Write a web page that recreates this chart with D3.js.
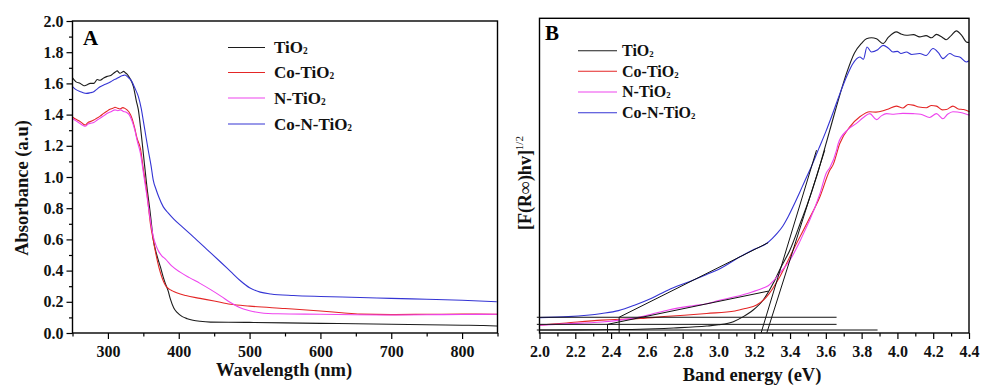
<!DOCTYPE html>
<html><head><meta charset="utf-8">
<script src="https://cdn.jsdelivr.net/npm/d3@7"></script>
<style>html,body{margin:0;padding:0;background:#fff;}svg{display:block;}</style>
</head><body>
<svg id="chart" width="982" height="387"></svg>
<script>
// ---------- Panel A data (wavelength nm -> absorbance) ----------
const seriesNames = ["TiO2", "Co-TiO2", "N-TiO2", "Co-N-TiO2"];
const tio2A_x = [250,255,261,266,270,275,280,285,289,294,299,304,308,311,313,317,320,322,325,327,331,336,340,343,346,350,355,360,364,369,374,378,381,385,388,393,398,405,412,420,430,445,470,500,550,600,650,700,750,800,830,850];
const tio2A_y = [1.635,1.61,1.60,1.585,1.59,1.60,1.60,1.625,1.62,1.635,1.645,1.65,1.665,1.675,1.68,1.665,1.672,1.677,1.667,1.66,1.633,1.58,1.49,1.43,1.32,1.15,0.94,0.76,0.60,0.50,0.425,0.36,0.318,0.27,0.22,0.16,0.13,0.105,0.092,0.082,0.075,0.070,0.069,0.068,0.065,0.062,0.059,0.056,0.053,0.050,0.048,0.045];
const coA_x = [250,255,261,265,268,272,275,280,284,289,294,298,303,307,310,314,317,321,324,327,330,334,338,341,346,350,355,360,364,368,372,376,379,382,386,391,397,410,430,450,473,500,550,600,630,656,700,750,800,850];
const coA_y = [1.385,1.37,1.355,1.34,1.333,1.35,1.355,1.365,1.376,1.39,1.408,1.42,1.434,1.44,1.447,1.44,1.436,1.445,1.44,1.43,1.415,1.376,1.31,1.25,1.18,1.05,0.90,0.70,0.596,0.50,0.42,0.36,0.325,0.30,0.283,0.27,0.258,0.24,0.222,0.205,0.184,0.172,0.157,0.141,0.13,0.121,0.118,0.12,0.121,0.12];
const nA_x = [250,255,260,265,268,272,276,280,285,290,295,300,305,310,314,318,322,326,330,334,338,342,346,350,355,360,364,368,372,376,381,390,402,415,430,445,460,473,485,500,515,540,600,650,700,750,800,850];
const nA_y = [1.375,1.36,1.345,1.33,1.325,1.34,1.345,1.35,1.365,1.38,1.395,1.41,1.42,1.43,1.425,1.43,1.42,1.415,1.40,1.36,1.30,1.22,1.15,1.03,0.88,0.72,0.62,0.56,0.52,0.495,0.475,0.43,0.39,0.355,0.318,0.278,0.235,0.195,0.165,0.143,0.13,0.123,0.12,0.117,0.115,0.117,0.119,0.12];
const conA_x = [250,255,261,265,270,275,280,285,289,294,299,304,308,312,317,321,324,327,330,334,338,343,347,350,354,357,361,364,368,372,378,385,393,405,421,440,459,473,487,500,515,530,562,600,656,700,750,800,849];
const conA_y = [1.58,1.56,1.547,1.54,1.536,1.54,1.547,1.565,1.579,1.59,1.60,1.61,1.622,1.63,1.643,1.65,1.654,1.645,1.633,1.611,1.57,1.515,1.44,1.36,1.25,1.17,1.07,0.98,0.92,0.87,0.81,0.77,0.73,0.68,0.615,0.535,0.455,0.395,0.335,0.29,0.262,0.25,0.24,0.234,0.228,0.222,0.216,0.21,0.20];
const xTicksA = [300,400,500,600,700,800];
const xMinorA = [250,350,450,550,650,750,850];
const yTicksA = [0,0.2,0.4,0.6,0.8,1.0,1.2,1.4,1.6,1.8,2.0];
const yMinorA = [0.1,0.3,0.5,0.7,0.9,1.1,1.3,1.5,1.7,1.9];

// ---------- Panel B data (band energy eV -> [F(R)hv]^1/2, arbitrary units) ----------
const tio2B_x = [2.0,2.2,2.4,2.562,2.75,2.934,3.0,3.083,3.139,3.194,3.25,3.306,3.35,3.399,3.464,3.492,3.55,3.622,3.68,3.715,3.76,3.799,3.827,3.855,3.883,3.92,3.95,3.994,4.02,4.05,4.09,4.124,4.16,4.19,4.218,4.25,4.273,4.3,4.329,4.36,4.385,4.4];
const tio2B_y = [0.95,1.0,1.1,1.2,1.6,2.2,2.6,3.6,5.2,7.3,10.5,15.8,21,26.3,35.9,40.1,50,64.4,76,82.4,89,92.0,93.5,93.8,93.5,92.0,94,95.7,95,94.6,94.8,94.1,94.5,93.8,94.9,94,93.2,94.5,96,94.5,92.5,92.3];
const coB_x = [2.0,2.15,2.348,2.562,2.72,2.934,3.092,3.15,3.213,3.269,3.343,3.417,3.5,3.567,3.622,3.641,3.678,3.734,3.79,3.846,3.88,3.92,3.95,3.994,4.03,4.06,4.087,4.12,4.162,4.19,4.218,4.25,4.273,4.31,4.34,4.37,4.403];
const coB_y = [2.5,3.2,4.1,4.6,5.3,6.2,7.0,7.8,8.9,11.5,17.9,26.3,35.5,43.3,51.7,53.5,60.2,65.5,68.7,70.3,70.2,70.6,71.2,72.1,71.5,72.6,72.4,71.8,71.6,72.3,72.1,70.9,71,72.1,71.2,71,70.3];
const nB_x = [2.0,2.15,2.348,2.45,2.534,2.62,2.72,2.85,2.934,3.0,3.092,3.18,3.25,3.278,3.306,3.35,3.4,3.45,3.492,3.51,3.567,3.604,3.622,3.66,3.669,3.72,3.771,3.81,3.846,3.883,3.91,3.939,3.98,4.03,4.087,4.13,4.18,4.218,4.254,4.28,4.31,4.36,4.403];
const nB_y = [2.5,2.9,3.5,4.1,4.8,5.9,7.3,8.6,9.3,10.3,11.5,12.9,14.3,15.0,16.5,19.5,23.2,28.5,33.7,35.9,44.3,51,52.5,58.1,60.2,64.5,66.6,68.5,69.7,67.8,69,69.7,69.5,69.8,69.7,69.5,68.5,69.7,68.1,69.5,70.3,70,69.2];
const conB_x = [2.0,2.162,2.348,2.441,2.534,2.62,2.72,2.84,2.934,3.0,3.12,3.2,3.27,3.3,3.33,3.36,3.39,3.42,3.45,3.48,3.52,3.56,3.6,3.64,3.678,3.72,3.75,3.79,3.81,3.83,3.855,3.89,3.92,3.95,3.975,4.0,4.02,4.05,4.08,4.124,4.16,4.199,4.23,4.254,4.292,4.32,4.348,4.385,4.4];
const conB_y = [4.9,5.2,6.2,7.1,8.9,10.9,13.7,16.4,18.6,20.2,24.2,26.6,28.5,30,31.8,34,37,40.5,44.2,48,53,58.5,64,70,76,82,85.5,87.7,87,90.9,89.3,90,91.4,90.5,89.3,89.5,88.8,89.3,88.5,88.8,88.2,90.4,89,87.2,88.8,88,87.7,86.1,86.5];
// tangent / baseline construction lines: [x1, y1, x2, y2]
const fitLinesB = [
  [1.985,5.0,3.66,5.0],
  [1.985,2.75,3.66,2.75],
  [1.985,0.95,3.889,0.95],
  [2.38,0,2.38,2.75],
  [2.445,0,2.445,5.0],
  [2.445,5.0,3.278,28.7],
  [2.38,2.75,3.278,13.3],
  [3.238,0,3.548,58.1],
  [3.27,0,3.594,58.1]
];
const xTicksB = [2.0,2.2,2.4,2.6,2.8,3.0,3.2,3.4,3.6,3.8,4.0,4.2,4.4];
const xMinorB = [2.1,2.3,2.5,2.7,2.9,3.1,3.3,3.5,3.7,3.9,4.1,4.3];

const colors = ["#1c1c1c", "#e42626", "#ee44ee", "#3434d4"];
const FONT = '"Liberation Serif","Times New Roman",serif';

const svg = d3.select("#chart");
svg.append("rect").attr("width",982).attr("height",387).attr("fill","#fff");

function zip(xs, ys){ return xs.map((x,i)=>[x, ys[i]]); }

function drawPanel(opt){
  const g = svg.append("g");
  const {x, y} = opt;
  const line = d3.line().x(d=>x(d[0])).y(d=>y(d[1])).curve(d3.curveMonotoneX);
  opt.series.forEach((s,i)=>{
    g.append("path").datum(zip(s[0], s[1]))
      .attr("d", line).attr("fill","none").attr("stroke", colors[i]).attr("stroke-width",1.1);
  });
  const xa = g.append("g").attr("transform",`translate(0,${y.range()[0]})`)
    .call(d3.axisBottom(x).tickValues(opt.xTicks).tickSize(6).tickPadding(7).tickFormat(opt.xFmt));
  const xm = g.append("g").attr("transform",`translate(0,${y.range()[0]})`)
    .call(d3.axisBottom(x).tickValues(opt.xMinor).tickSize(3.5).tickFormat(""));
  [xa,xm].forEach(a=>{a.select(".domain").remove(); a.selectAll("line").attr("stroke","#000").attr("stroke-width",1.2);});
  xa.selectAll("text").attr("font-family",FONT).attr("font-weight","bold").attr("font-size",16).attr("fill","#111");
  if (opt.yTicks){
    const ya = g.append("g").attr("transform",`translate(${x.range()[0]},0)`)
      .call(d3.axisLeft(y).tickValues(opt.yTicks).tickSize(6).tickPadding(3).tickFormat(d3.format(".1f")));
    const ym = g.append("g").attr("transform",`translate(${x.range()[0]},0)`)
      .call(d3.axisLeft(y).tickValues(opt.yMinor).tickSize(3.5).tickFormat(""));
    [ya,ym].forEach(a=>{a.select(".domain").remove(); a.selectAll("line").attr("stroke","#000").attr("stroke-width",1.2);});
    ya.selectAll("text").attr("font-family",FONT).attr("font-weight","bold").attr("font-size",16).attr("fill","#111");
  }
  const [x0,x1] = x.range(), [y0,y1] = y.range();
  g.append("rect").attr("x",x0).attr("y",y1).attr("width",x1-x0).attr("height",y0-y1)
    .attr("fill","none").attr("stroke","#000").attr("stroke-width",1.4);
  return g;
}

function legend(g, lx1, lx2, tx, ys, fs){
  seriesNames.forEach((name,i)=>{
    g.append("line").attr("x1",lx1).attr("x2",lx2).attr("y1",ys[i]).attr("y2",ys[i])
      .attr("stroke",colors[i]).attr("stroke-width",1.1);
    const t = g.append("text").attr("x",tx).attr("y",ys[i]+fs*0.34)
      .attr("font-family",FONT).attr("font-weight","bold").attr("font-size",fs).attr("fill","#111");
    t.append("tspan").text(name.slice(0,-1));
    t.append("tspan").text("2").attr("font-size",fs*0.55).attr("dy",1);
  });
}

// ----- Panel A -----
const xA = d3.scaleLinear([250,850],[72.5,497.5]);
const yA = d3.scaleLinear([0,2],[333,21]);
const gA = drawPanel({x:xA, y:yA,
  series:[[tio2A_x,tio2A_y],[coA_x,coA_y],[nA_x,nA_y],[conA_x,conA_y]],
  xTicks:xTicksA, xMinor:xMinorA, xFmt:d3.format("d"), yTicks:yTicksA, yMinor:yMinorA});
gA.append("text").attr("x",83).attr("y",45).text("A")
  .attr("font-family",FONT).attr("font-weight","bold").attr("font-size",21);
legend(gA, 228, 265, 274, [47.5,72.5,98,124], 17);
gA.append("text").attr("x",284).attr("y",376).attr("text-anchor","middle").text("Wavelength (nm)")
  .attr("font-family",FONT).attr("font-weight","bold").attr("font-size",18.5).attr("fill","#111");
gA.append("text").attr("transform","translate(27.5,188) rotate(-90)").attr("text-anchor","middle").text("Absorbance (a.u)")
  .attr("font-family",FONT).attr("font-weight","bold").attr("font-size",18.5).attr("fill","#111");

// ----- Panel B -----
const xB = d3.scaleLinear([2.0,4.4],[539.5,969]);
const yB = d3.scaleLinear([0,100],[333,18.3]);
const gB = drawPanel({x:xB, y:yB,
  series:[[tio2B_x,tio2B_y],[coB_x,coB_y],[nB_x,nB_y],[conB_x,conB_y]],
  xTicks:xTicksB, xMinor:xMinorB, xFmt:d3.format(".1f")});
gB.selectAll("line.fit").data(fitLinesB).join("line").attr("class","fit")
  .attr("x1",d=>xB(d[0])).attr("y1",d=>yB(d[1])).attr("x2",d=>xB(d[2])).attr("y2",d=>yB(d[3]))
  .attr("stroke","#111").attr("stroke-width",1);
gB.append("text").attr("x",545).attr("y",40).text("B")
  .attr("font-family",FONT).attr("font-weight","bold").attr("font-size",21);
legend(gB, 578, 617, 622, [50.7,71.3,92,112.7], 16);
gB.append("text").attr("x",752).attr("y",381).attr("text-anchor","middle").text("Band energy (eV)")
  .attr("font-family",FONT).attr("font-weight","bold").attr("font-size",18.5).attr("fill","#111");
const yl = gB.append("text").attr("transform","translate(531,183) rotate(-90)").attr("text-anchor","middle")
  .attr("font-family",FONT).attr("font-weight","bold").attr("font-size",18).attr("fill","#111");
yl.append("tspan").text("[F(R∞)hv]");
yl.append("tspan").text("1/2").attr("font-size",11).attr("font-weight","normal").attr("dy",-8);
</script>
</body></html>
